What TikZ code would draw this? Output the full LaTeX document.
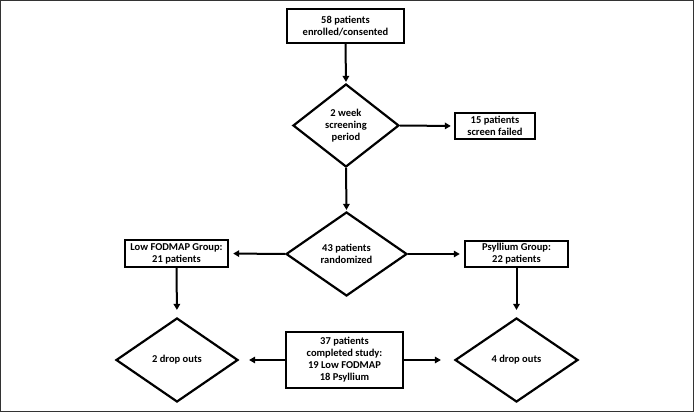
\documentclass[tikz,border=0pt]{standalone}
\usepackage{fontspec}
\setmainfont{Carlito}
\usetikzlibrary{shapes.geometric,arrows.meta}
\begin{document}
\begin{tikzpicture}[x=1pt,y=-1pt,
  txt/.style={font=\bfseries\fontsize{10.5}{12}\selectfont, align=center, inner sep=0pt},
  boxnode/.style={txt, draw, line width=2.4pt, minimum width=#1},
  dia/.style={txt, diamond, draw, line width=2.2pt},
  arr/.style={line width=2pt, -{Triangle[length=6pt,width=6.5pt]}}]
\useasboundingbox (0,0) rectangle (694,412);
\draw[line width=1.2pt, black!80] (0.6,0.6) rectangle (693.4,411.4);

\node[boxnode=117pt, minimum height=34pt] (b1) at (345.5,26) {58 patients\\enrolled/consented};
\node[dia, minimum width=106pt, minimum height=83pt] (d1) at (346,125.5) {2 week\\screening\\period};
\node[boxnode=80pt, minimum height=26pt] (b15) at (495,126) {15 patients\\screen failed};
\node[dia, minimum width=121pt, minimum height=84pt] (d2) at (346.5,254) {43 patients\\randomized};
\node[boxnode=103pt, minimum height=27pt] (low) at (176.5,253.5) {Low FODMAP Group:\\21 patients};
\node[boxnode=103pt, minimum height=26pt] (psy) at (516.5,254) {Psyllium Group:\\22 patients};
\node[boxnode=117pt, minimum height=56pt] (b37) at (344.5,360) {37 patients\\completed study:\\19 Low FODMAP\\18 Psyllium};
\node[dia, minimum width=122pt, minimum height=84pt] (dl) at (177,360) {2 drop outs};
\node[dia, minimum width=123pt, minimum height=84pt] (dr) at (516.5,360) {4 drop outs};

\draw[arr, shorten >=1pt] (b1.south) -- (d1.north);
\draw[arr, shorten >=3pt] (d1.east) -- (b15.west);
\draw[arr, shorten >=1pt] (d1.south) -- (d2.north);
\draw[arr, shorten >=4pt] (d2.west) -- (low.east);
\draw[arr, shorten >=4pt] (d2.east) -- (psy.west);
\draw[arr, shorten >=7pt] (low.south) -- (dl.north);
\draw[arr, shorten >=7pt] (psy.south) -- (dr.north);
\draw[arr, shorten >=10pt] (b37.west) -- (dl.east);
\draw[arr, shorten >=13pt] (b37.east) -- (dr.west);
\end{tikzpicture}
\end{document}
